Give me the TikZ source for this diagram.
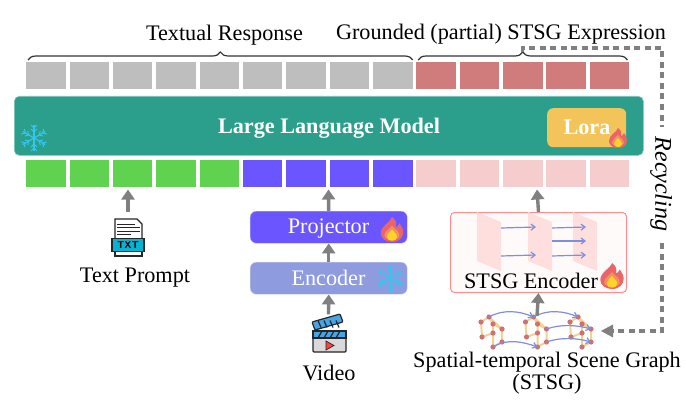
\documentclass[tikz,border=0pt]{standalone}
\usepackage{fontspec}
\setmainfont{Liberation Serif}
\usetikzlibrary{arrows.meta,calc,decorations.pathreplacing,positioning}
\definecolor{tealllm}{HTML}{2B9E8C}
\definecolor{loragold}{HTML}{F2C45A}
\definecolor{tokgrey}{HTML}{BEBEBE}
\definecolor{tokred}{HTML}{D07C7C}
\definecolor{tokgreen}{HTML}{5FD250}
\definecolor{tokblue}{HTML}{6A55FF}
\definecolor{tokpink}{HTML}{F6CDCD}
\definecolor{encblue}{HTML}{8F9BDF}
\definecolor{icecyan}{HTML}{35C5EE}
\definecolor{lineblue}{HTML}{7F8FE0}
\definecolor{sand}{HTML}{F0D296}
\definecolor{dotred}{HTML}{CF7073}
\definecolor{fireout}{HTML}{E8656A}
\definecolor{firemid}{HTML}{F2925A}
\definecolor{firein}{HTML}{FFD427}
\definecolor{clapblue}{HTML}{45A5E5}
\definecolor{txtcyan}{HTML}{04B4D2}
\tikzset{
  token/.style={minimum width=39.5pt, minimum height=27pt, inner sep=0pt, anchor=north west},
  label/.style={font=\fontsize{22.2}{24}\selectfont, inner sep=0pt, anchor=base},
  whitelabel/.style={label, text=white},
  flowarrow/.style={draw=black!50, line width=3.4pt, -{Triangle[length=10pt,width=13pt]}},
  recycle/.style={draw=black!50, line width=3.2pt, dash pattern=on 6pt off 4.5pt},
  curlybrace/.style={draw=black!80, line width=1.2pt, decorate, decoration={brace, amplitude=8pt}},
  stage/.style={rounded corners=6pt, minimum width=157pt, minimum height=32pt, inner sep=0pt},
  plane/.style={fill=red!13, draw=none},
  thinarrow/.style={draw=lineblue, line width=1.2pt, -{Straight Barb[length=4pt,width=6pt]}},
  pics/fire/.style={code={
    \begin{scope}[yscale=-1]
    \fill[fireout] (0,10) .. controls (-1,6) and (-9,3) .. (-9,-3)
      .. controls (-9,-7) and (-5,-10) .. (0,-10) .. controls (6,-10) and (9,-6) .. (9,-2)
      .. controls (9,1) and (7,3) .. (6,5) .. controls (5,3) and (4,2) .. (3,2)
      .. controls (4,5) and (3,8) .. (0,10) -- cycle;
    \fill[firemid] (0,3) .. controls (-2,0) and (-6,-1) .. (-6,-5)
      .. controls (-6,-9) and (6,-9) .. (6,-5) .. controls (6,-1) and (2,0) .. (0,3) -- cycle;
    \fill[firein] (0,0) .. controls (-1,-2) and (-4,-3) .. (-4,-6)
      .. controls (-4,-10) and (4,-10) .. (4,-6) .. controls (4,-3) and (1,-2) .. (0,0) -- cycle;
    \end{scope}
  }},
  pics/flake/.style={code={
    \foreach \a in {30,90,...,330} {
      \begin{scope}[rotate=\a]
        \draw[icecyan, line width=1.2pt] (0,0) -- (13,0);
        \draw[icecyan, line width=1pt] (6,0) -- (9,3) (6,0) -- (9,-3) (10,0) -- (13,3) (10,0) -- (13,-3);
      \end{scope}
    }
  }},
  pics/scene/.style={code={
    \coordinate (-a) at (0,5); \coordinate (-b) at (8,0); \coordinate (-c) at (12,7);
    \coordinate (-d) at (21,12); \coordinate (-e) at (1,20); \coordinate (-f) at (12,16);
    \coordinate (-g) at (21,25); \coordinate (-h) at (12,30);
    \draw[sand, line width=2pt] (-a) -- (-b) -- (-c) -- (-d) -- (-g) -- (-h) -- (-f) -- (-e) -- (-a)
      (-c) -- (-f) (-b) -- (-d);
    \foreach \p in {a,b,c,d,e,f,g,h} \fill[dotred] (-\p) circle (2.6pt);
  }},
}
\begin{document}
\begin{tikzpicture}[x=1pt,y=-1pt]
  \def\tw{43.35}

  % Fixed bounding box
  \useasboundingbox (0,0) rectangle (686,404);

  % Token rows
  \foreach \i in {0,...,8} {
    \pgfmathsetmacro{\xx}{26+\i*\tw}
    \node[token, fill=tokgrey] (top\i) at (\xx,62) {};
  }
  \foreach \i in {9,...,13} {
    \pgfmathsetmacro{\xx}{26+\i*\tw}
    \node[token, fill=tokred] (top\i) at (\xx,62) {};
    \node[token, fill=tokpink] (bot\i) at (\xx,160) {};
  }
  \foreach \i in {0,...,4} {
    \pgfmathsetmacro{\xx}{26+\i*\tw}
    \node[token, fill=tokgreen] (bot\i) at (\xx,160) {};
  }
  \foreach \i in {5,...,8} {
    \pgfmathsetmacro{\xx}{26+\i*\tw}
    \node[token, fill=tokblue] (bot\i) at (\xx,160) {};
  }

  % Braces and their labels
  \draw[curlybrace] ($(top0.north west)+(2,-2)$) -- ($(top8.north east)+(0,-2)$);
  \draw[curlybrace] ($(top9.north west)+(2,-2)$) -- ($(top13.north east)+(-2,-2)$);
  \node[label] (resp) at (224.5,41) {Textual Response};
  \node[label] (ground) at (501,40) {Grounded (partial) STSG Expression};

  % Large model bar
  \node[fill=tealllm, draw=tealllm!60!white, line width=0.6pt, rounded corners=5pt, minimum width=629pt, minimum height=59pt,
    inner sep=0pt, anchor=north west] (llm) at (14,96) {};
  \node[whitelabel, font=\fontsize{22.2}{24}\selectfont\bfseries] (llmtext) at (329,133) {Large Language Model};
  \pic at (34,138) {flake};
  \node[fill=loragold, rounded corners=6pt, minimum width=79pt, minimum height=39pt, inner sep=0pt, anchor=north west] (lora) at (547,108) {};
  \node[whitelabel, font=\fontsize{22.2}{24}\selectfont\bfseries] (loratext) at (587,134) {Lora};
  \pic at (618,138) {fire};

  % Text prompt
  \node[minimum width=34pt, minimum height=39pt, inner sep=0pt] (texticon) at (128,237.5) {};
  \fill[white] (114,219) rectangle (142,256);
  \draw[black!85, line width=1.2pt] (115,254) -- (115,219) -- (137,219) -- (142,224) -- (142,254);
  \draw[black!85, line width=0.9pt] (117,224) -- (135,224) (117,227.5) -- (140,227.5) (117,231) -- (140,231) (117,234.5) -- (131,234.5);
  \fill[txtcyan] (112,238.5) rectangle (144,251.5);
  \draw[black!85, line width=1.2pt] (112,238.5) rectangle (144,251.5) (115,251.5) -- (115,256) -- (142,256) -- (142,251.5);
  \node[font=\fontsize{10}{10}\selectfont\sffamily\bfseries, inner sep=0pt] (txttag) at (128,245) {TXT};
  \node[label, text=black] (prompt) at (135,282) {Text Prompt};
  \coordinate (txttok) at (128,189.5);
  \draw[flowarrow] (128,212) -- (txttok);

  % Video branch
  \node[stage, fill=tokblue, draw=tokblue!40!white, line width=0.4pt, anchor=north west] (projector) at (250,211) {};
  \node[whitelabel] (projtext) at (328.5,233) {Projector};
  \pic at (392,229.5) [scale=1.25] {fire};
  \node[stage, fill=encblue, draw=encblue!40!white, line width=0.4pt, anchor=north west] (encoder) at (250,262) {};
  \node[whitelabel] (enctext) at (328.5,285) {Encoder};
  \pic at (390,278) {flake};
  \node[minimum width=34pt, minimum height=39pt, inner sep=0pt] (videoicon) at (328.5,334) {};
  \fill[clapblue, draw=black!85, line width=1.2pt, rounded corners=1pt] (312,322) -- (340,314) -- (343,322) -- (315,330) -- cycle;
  \foreach \k in {0,...,3}
    \draw[black!85, line width=1.2pt] ({318+\k*6},320.5) -- ({321+\k*6},327.5);
  \fill[black!15!white, draw=black!85, line width=1.2pt, rounded corners=1pt] (313,331) rectangle (346,352);
  \fill[clapblue, draw=black!85, line width=1.2pt] (313,331) rectangle (346,338);
  \foreach \k in {0,...,3}
    \draw[black!85, line width=1.2pt] ({318+\k*6},338) -- ({322+\k*6},331);
  \fill[red!75!white, draw=black!85, line width=0.7pt] (326,341) -- (334,345.5) -- (326,350) -- cycle;
  \node[label, text=black] (video) at (329,380) {Video};
  \coordinate (vidtok) at (328.5,189.5);
  \draw[flowarrow] (projector.north) -- (vidtok);
  \draw[flowarrow] (encoder.north) -- (projector.south);
  \draw[flowarrow] (videoicon.north) -- (encoder.south);

  % Scene graph encoder
  \node[fill=red!2, draw=red!45!white, line width=1pt, rounded corners=4pt, minimum width=176pt, minimum height=80pt,
    inner sep=0pt, anchor=north west] (stsgenc) at (450,212) {};
  \foreach \xx in {477,528,573}
    \fill[plane] (\xx,212) -- ({\xx+24},222) -- ({\xx+24},271) -- (\xx,261) -- cycle;
  \draw[thinarrow] (501,228) -- (536,227);
  \draw[thinarrow] (501,256) -- (536,255);
  \draw[thinarrow] (552,228) -- (586,227);
  \draw[thinarrow] (552,241) -- (586,241);
  \draw[thinarrow] (552,256) -- (586,255);
  \node[label, text=black] (enclabel) at (531,288) {STSG Encoder};
  \pic at (612,276) [scale=1.3] {fire};

  % Scene graph
  \node[minimum width=125pt, minimum height=32pt, inner sep=0pt] (stsggraph) at (537,332) {};
  \pic (ga) at (481,317) {scene};
  \pic (gb) at (525.5,317) {scene};
  \pic (gc) at (570,317) {scene};
  \draw[thinarrow] (ga-b) .. controls +(14,-8) and +(-14,-6) .. (gb-b);
  \draw[thinarrow] (gb-b) .. controls +(14,-8) and +(-14,-6) .. (gc-b);
  \draw[thinarrow] (ga-h) .. controls +(14,-9) and +(-14,-5) .. (gb-h);
  \draw[thinarrow] (gb-d) .. controls +(14,-5) and +(-14,-4) .. (gc-d);
  \draw[thinarrow] (gb-g) .. controls +(14,-5) and +(-14,-4) .. (gc-g);
  \node[label, text=black] (stsgname) at (547,367) {Spatial-temporal Scene Graph};
  \node[label, text=black] (stsgshort) at (547,389) {(STSG)};
  \draw[flowarrow] (stsggraph.north) -- (stsgenc.south);
  \coordinate (enctok) at (537,189.5);
  \draw[flowarrow] (stsgenc.north) -- (enctok);

  % Recycling loop
  \coordinate (tipb) at (522.5,52);
  \coordinate (loopup) at (662,127);
  \coordinate (loopdown) at (662,243);
  \draw[recycle] (tipb) -- (522.5,48) -- (662,48) -- (loopup);
  \node[rotate=-90, inner sep=0pt, font=\fontsize{24}{26}\selectfont\itshape] (recycling) at (661,184) {Recycling};
  \draw[recycle] (loopdown) -- (662,331) -- (612,331);
  \fill[black!50] (601,331) -- (613,324.5) -- (613,337.5) -- cycle;
\end{tikzpicture}
\end{document}
